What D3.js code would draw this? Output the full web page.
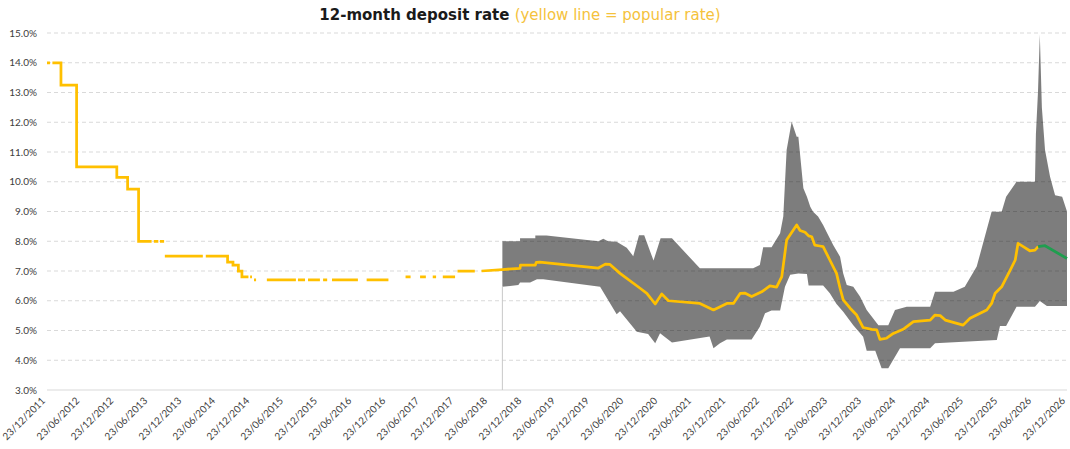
<!DOCTYPE html>
<html>
<head>
<meta charset="utf-8">
<script src="https://cdn.jsdelivr.net/npm/d3@7"></script>
<style>
  body { margin: 0; background: #fff; }
  text { font-family: Lato, "DejaVu Sans", sans-serif; }
</style>
</head>
<body>
<div id="chart"></div>
<script>
// x axis labels, one every six months
var tickLabels = ["23/12/2011", "23/06/2012", "23/12/2012", "23/06/2013", "23/12/2013",
  "23/06/2014", "23/12/2014", "23/06/2015", "23/12/2015", "23/06/2016", "23/12/2016",
  "23/06/2017", "23/12/2017", "23/06/2018", "23/12/2018", "23/06/2019", "23/12/2019",
  "23/06/2020", "23/12/2020", "23/06/2021", "23/12/2021", "23/06/2022", "23/12/2022",
  "23/06/2023", "23/12/2023", "23/06/2024", "23/12/2024", "23/06/2025", "23/12/2025",
  "23/06/2026", "23/12/2026"];

var rateTicks = [3, 4, 5, 6, 7, 8, 9, 10, 11, 12, 13, 14, 15];

// early popular rate, step line with gaps (null = no data)
var earlyDates = [
  "2011-12-23", "2012-01-08", null,
  "2012-01-21", "2012-03-07", "2012-05-30", "2013-01-01", "2013-02-28", "2013-04-28", "2013-07-07", null,
  "2013-07-19", "2013-08-12", null,
  "2013-08-21", "2013-09-12", null,
  "2013-09-16", "2014-04-08", null,
  "2014-04-24", "2014-08-19", "2014-09-17", "2014-10-16", "2014-11-04", "2014-12-09", null,
  "2014-12-18", "2014-12-28", null,
  "2015-01-08", "2015-01-19", null,
  "2015-03-18", "2015-08-21", null,
  "2015-09-01", "2015-10-09", null,
  "2015-10-25", "2015-12-28", null,
  "2016-01-14", "2016-02-05", null,
  "2016-03-02", "2016-07-19", null,
  "2016-09-04", "2016-12-30", null,
  "2017-04-01", "2017-04-28", null,
  "2017-06-18", "2017-07-19", null,
  "2017-08-25", "2017-09-12", null,
  "2017-10-18", "2017-12-23", null,
  "2018-01-05", "2018-04-08"
];
var earlyRates = [
  14.0, 14.0, null,
  14.0, 13.25, 10.5, 10.15, 9.75, 8.0, 8.0, null,
  8.0, 8.0, null,
  8.0, 8.0, null,
  7.5, 7.5, null,
  7.5, 7.3, 7.2, 7.0, 6.8, 6.8, null,
  6.8, 6.8, null,
  6.7, 6.7, null,
  6.7, 6.7, null,
  6.7, 6.7, null,
  6.7, 6.7, null,
  6.7, 6.7, null,
  6.7, 6.7, null,
  6.7, 6.7, null,
  6.8, 6.8, null,
  6.8, 6.8, null,
  6.8, 6.8, null,
  6.8, 6.8, null,
  7.0, 7.0
];

// popular rate, continuous part
var popularDates = ["2018-05-14", "2018-09-03", "2018-12-07", "2018-12-09", "2019-02-27",
  "2019-03-04", "2019-03-23", "2020-02-01", "2020-03-09", "2020-04-03", "2020-05-27",
  "2020-09-12", "2020-10-18", "2020-12-02", "2021-01-06", "2021-02-11", "2021-07-30",
  "2021-10-11", "2021-12-22", "2022-01-26", "2022-03-04", "2022-03-28", "2022-05-04",
  "2022-06-27", "2022-08-10", "2022-09-15", "2022-10-13", "2022-11-08", "2023-01-01",
  "2023-01-19", "2023-02-15", "2023-03-06", "2023-03-23", "2023-04-08", "2023-05-05",
  "2023-05-23", "2023-06-28", "2023-08-03", "2023-08-22", "2023-09-08", "2023-10-15",
  "2023-11-19", "2023-12-24", "2024-02-08", "2024-03-06", "2024-03-23", "2024-04-28",
  "2024-06-03", "2024-07-26", "2024-09-19", "2024-12-18", "2025-01-13", "2025-02-10",
  "2025-03-09", "2025-06-13", "2025-07-20", "2025-10-18", "2025-11-13", "2025-12-02",
  "2026-01-06", "2026-02-21", "2026-03-20", "2026-04-04", "2026-05-02", "2026-06-06",
  "2026-07-04", "2026-07-21"];
var popularRates = [7.0, 7.05, 7.09, 7.2, 7.2,
  7.29, 7.3, 7.1, 7.23, 7.22, 6.92,
  6.42, 6.25, 5.89, 6.23, 6.0, 5.91,
  5.69, 5.91, 5.91, 6.25, 6.26, 6.14,
  6.3, 6.5, 6.46, 6.81, 8.04, 8.55,
  8.36, 8.3, 8.18, 8.15, 7.87, 7.84,
  7.82, 7.37, 6.92, 6.42, 6.03, 5.75,
  5.52, 5.1, 5.04, 5.02, 4.7, 4.74,
  4.9, 5.04, 5.3, 5.35, 5.52, 5.5,
  5.35, 5.18, 5.41, 5.69, 5.91, 6.25,
  6.47, 7.03, 7.37, 7.93, 7.82, 7.68,
  7.7, 7.82];

// forecast (green)
var forecastDates = ["2026-07-21", "2026-08-27", "2026-12-23"];
var forecastRates = [7.82, 7.85, 7.42];

// range of offered rates (grey band)
var upperDates = ["2018-09-03", "2018-12-07", "2018-12-07", "2019-02-27", "2019-02-27",
  "2019-04-28", "2020-02-01", "2020-02-27", "2020-03-24", "2020-05-09", "2020-07-02",
  "2020-08-06", "2020-09-06", "2020-10-04", "2020-11-23", "2020-12-31", "2021-03-02",
  "2021-07-30", "2022-05-12", "2022-06-17", "2022-07-05", "2022-08-19", "2022-10-04",
  "2022-10-21", "2022-11-08", "2022-12-05", "2023-01-01", "2023-01-10", "2023-02-06",
  "2023-02-25", "2023-03-15", "2023-03-30", "2023-04-26", "2023-05-23", "2023-06-10",
  "2023-07-16", "2023-08-22", "2023-09-08", "2023-09-27", "2023-11-01", "2023-12-07",
  "2024-01-12", "2024-03-15", "2024-05-07", "2024-06-12", "2024-08-14", "2024-12-18",
  "2025-01-13", "2025-04-22", "2025-06-22", "2025-08-25", "2025-11-13", "2026-01-06",
  "2026-01-30", "2026-03-27", "2026-07-04", "2026-07-09", "2026-07-20", "2026-07-30",
  "2026-08-10", "2026-08-27", "2026-09-23", "2026-10-20", "2026-11-27", "2026-12-23"];
var upperRates = [8.0, 8.0, 8.1, 8.1, 8.19,
  8.19, 8.0, 8.08, 8.0, 7.98, 7.78,
  7.5, 8.2, 8.2, 7.35, 8.1, 8.1,
  7.09, 7.09, 7.2, 7.8, 7.8, 8.27,
  8.83, 11.07, 12.02, 11.51, 11.51, 9.78,
  9.5, 9.16, 8.99, 8.83, 8.55, 8.32,
  7.87, 7.48, 6.92, 6.53, 6.47, 6.14,
  5.69, 5.18, 5.18, 5.69, 5.8, 5.8,
  6.3, 6.3, 6.47, 7.15, 8.99, 8.99,
  9.5, 10.0, 10.0, 11.6, 13.0, 14.95,
  12.5, 11.07, 10.17, 9.55, 9.5, 9.0];

var lowerDates = ["2018-09-03", "2018-11-28", "2018-12-07", "2019-01-30", "2019-03-08",
  "2019-04-10", "2020-02-10", "2020-05-09", "2020-05-27", "2020-08-25", "2020-10-25",
  "2020-12-02", "2020-12-28", "2021-03-02", "2021-09-20", "2021-10-11", "2021-11-15",
  "2021-12-22", "2022-05-04", "2022-06-17", "2022-07-15", "2022-08-19", "2022-10-04",
  "2022-10-30", "2022-11-27", "2023-01-10", "2023-02-25", "2023-03-06", "2023-05-23",
  "2023-06-28", "2023-08-03", "2023-09-08", "2023-11-01", "2023-12-24", "2024-01-12",
  "2024-02-27", "2024-04-01", "2024-05-07", "2024-07-09", "2024-12-18", "2025-01-13",
  "2025-12-11", "2025-12-28", "2026-01-30", "2026-03-27", "2026-07-04", "2026-07-30",
  "2026-09-06", "2026-12-23"];
var lowerRates = [6.47, 6.53, 6.61, 6.61, 6.72,
  6.72, 6.47, 5.55, 5.65, 4.96, 4.88,
  4.57, 4.91, 4.6, 4.8, 4.4, 4.57,
  4.7, 4.7, 5.13, 5.58, 5.67, 5.67,
  6.47, 6.87, 6.92, 6.9, 6.51, 6.51,
  6.25, 5.89, 5.63, 5.18, 4.79, 4.32,
  4.32, 3.73, 3.73, 4.4, 4.4, 4.57,
  4.68, 5.15, 5.15, 5.8, 5.8, 5.99,
  5.82, 5.82];

var margin = {top: 33, right: 3, bottom: 59, left: 47},
    width = 1070 - margin.left - margin.right,
    height = 449 - margin.top - margin.bottom;

var parseDate = d3.timeParse("%Y-%m-%d"),
    parseTick = d3.timeParse("%d/%m/%Y");

function pairs(dates, rates) {
  return dates.map(function (d, i) {
    return {date: d ? parseDate(d) : null, rate: rates[i]};
  });
}

var early = pairs(earlyDates, earlyRates),
    popular = pairs(popularDates, popularRates),
    forecast = pairs(forecastDates, forecastRates),
    upper = pairs(upperDates, upperRates),
    lower = pairs(lowerDates, lowerRates);

var svg = d3.select("#chart")
  .append("svg")
    .attr("width", width + margin.left + margin.right)
    .attr("height", height + margin.top + margin.bottom);

svg.append("text")
    .attr("x", 520)
    .attr("y", 20)
    .attr("text-anchor", "middle")
    .style("font-size", "15px")
    .style("font-family", "'DejaVu Sans', sans-serif")
  .call(function (t) {
    t.append("tspan").text("12-month deposit rate ")
      .style("font-weight", "bold").attr("fill", "#1a1a1a");
    t.append("tspan").text("(yellow line = popular rate)")
      .attr("fill", "#f5c23c");
  });

var g = svg.append("g")
    .attr("transform", "translate(" + margin.left + "," + margin.top + ")");

var x = d3.scaleTime()
    .domain([parseTick(tickLabels[0]), parseTick(tickLabels[tickLabels.length - 1])])
    .range([0, width]);

var y = d3.scaleLinear()
    .domain([3, 15])
    .range([height, 0]);

// gridlines
g.append("g")
  .selectAll("line")
  .data(rateTicks)
  .enter()
  .append("line")
    .attr("x1", 0)
    .attr("x2", width)
    .attr("y1", function (d) { return y(d); })
    .attr("y2", function (d) { return y(d); })
    .attr("stroke", "#d9d9d9")
    .attr("stroke-width", 1)
    .attr("stroke-dasharray", function (d) { return d === 3 ? null : "4,3"; });

// y axis labels
var yAxis = g.append("g")
    .call(d3.axisLeft(y).tickValues(rateTicks).tickSize(0).tickPadding(10)
      .tickFormat(function (d) { return d.toFixed(1) + "%"; }));
yAxis.select(".domain").remove();
yAxis.selectAll("text")
    .attr("fill", "#404040")
    .style("font-size", "10px")
    .style("font-family", "Lato, 'DejaVu Sans', sans-serif");

// x axis labels
var xAxis = g.append("g")
    .attr("transform", "translate(0," + height + ")")
    .call(d3.axisBottom(x)
      .tickValues(tickLabels.map(parseTick))
      .tickSize(0)
      .tickFormat(function (d, i) { return tickLabels[i]; }));
xAxis.select(".domain").remove();
xAxis.selectAll("text")
    .attr("x", 0)
    .attr("y", 0)
    .attr("dy", "0.35em")
    .attr("transform", "translate(-4,9) rotate(-45)")
    .style("text-anchor", "end")
    .attr("fill", "#404040")
    .style("font-size", "10px")
    .style("font-family", "Lato, 'DejaVu Sans', sans-serif");

// band of offered rates
var bandLine = d3.line()
    .x(function (d) { return x(d.date); })
    .y(function (d) { return y(d.rate); });

g.append("path")
    .attr("d", bandLine(upper.concat(lower.slice().reverse())) + "Z")
    .attr("fill", "#000")
    .attr("fill-opacity", 0.51);

g.append("line")
    .attr("x1", x(lower[0].date))
    .attr("x2", x(lower[0].date))
    .attr("y1", y(lower[0].rate))
    .attr("y2", height)
    .attr("stroke", "#c8c8c8")
    .attr("stroke-width", 1);

// popular rate lines
var stepLine = d3.line()
    .defined(function (d) { return d.rate != null; })
    .curve(d3.curveStepAfter)
    .x(function (d) { return x(d.date); })
    .y(function (d) { return y(d.rate); });

var rateLine = d3.line()
    .x(function (d) { return x(d.date); })
    .y(function (d) { return y(d.rate); });

g.append("path")
    .attr("d", stepLine(early))
    .attr("fill", "none")
    .attr("stroke", "#ffc000")
    .attr("stroke-width", 2.75);

g.append("path")
    .attr("d", rateLine(popular))
    .attr("fill", "none")
    .attr("stroke", "#ffc000")
    .attr("stroke-width", 2.75)
    .attr("stroke-linejoin", "round");

g.append("path")
    .attr("d", rateLine(forecast))
    .attr("fill", "none")
    .attr("stroke", "#1f9e4f")
    .attr("stroke-width", 2.75)
    .attr("stroke-linejoin", "round");
</script>
</body>
</html>
